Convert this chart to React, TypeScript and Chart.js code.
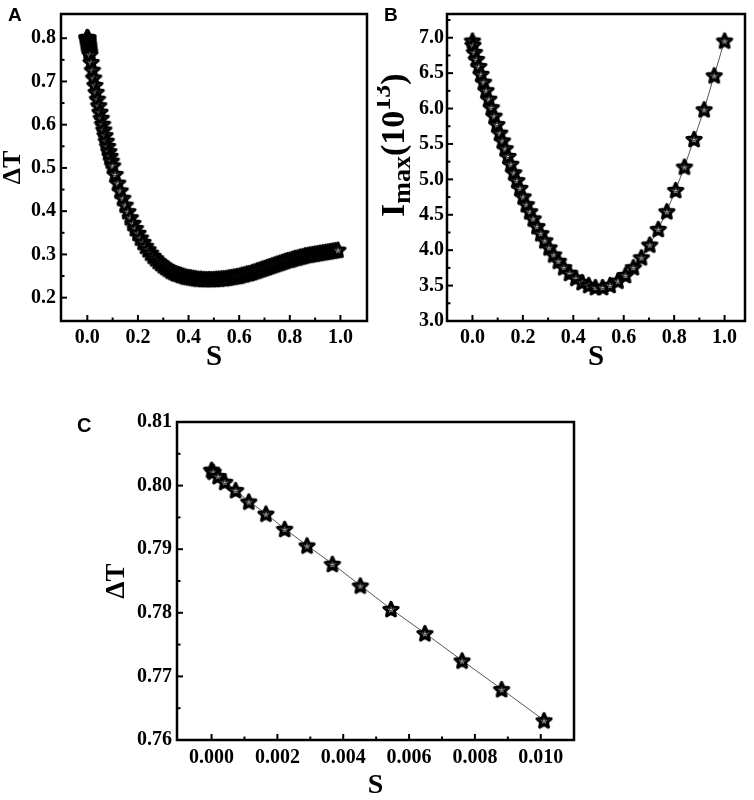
import { useEffect, useRef } from "react";
import Chart from "chart.js/auto";

// Panel A: ΔT against S (full range)
const sA = [
    0, 0.00005, 0.0002, 0.0004, 0.00073, 0.00113, 0.00165, 0.00222, 0.0029, 0.00367, 0.00452, 0.00545, 0.00648,
    0.00761, 0.00881, 0.0101, 0.015, 0.02, 0.025, 0.03, 0.035, 0.04, 0.045, 0.05, 0.055, 0.06, 0.065, 0.07, 0.075,
    0.08, 0.085, 0.09, 0.095, 0.1, 0.11, 0.12, 0.13, 0.14, 0.15, 0.16, 0.17, 0.18, 0.19, 0.2, 0.21, 0.22, 0.23, 0.24,
    0.25, 0.26, 0.27, 0.28, 0.29, 0.3, 0.31, 0.32, 0.33, 0.34, 0.35, 0.36, 0.37, 0.38, 0.39, 0.4, 0.41, 0.42, 0.43,
    0.44, 0.45, 0.46, 0.47, 0.48, 0.49, 0.5, 0.51, 0.52, 0.53, 0.54, 0.55, 0.56, 0.57, 0.58, 0.59, 0.6, 0.61, 0.62,
    0.63, 0.64, 0.65, 0.66, 0.67, 0.68, 0.69, 0.7, 0.71, 0.72, 0.73, 0.74, 0.75, 0.76, 0.77, 0.78, 0.79, 0.8, 0.81,
    0.82, 0.83, 0.84, 0.85, 0.86, 0.87, 0.88, 0.89, 0.9, 0.91, 0.92, 0.93, 0.94, 0.95, 0.96, 0.97, 0.98, 0.99,
];
const deltaTA = [
    0.8025, 0.8022, 0.8015, 0.8006, 0.7993, 0.7975, 0.7956, 0.7932, 0.7906, 0.7877, 0.7843, 0.7806, 0.7768, 0.7725,
    0.768, 0.7631, 0.745, 0.727, 0.709, 0.692, 0.676, 0.66, 0.645, 0.63, 0.616, 0.602, 0.589, 0.576, 0.563, 0.551,
    0.539, 0.528, 0.517, 0.506, 0.486, 0.466, 0.448, 0.431, 0.415, 0.4, 0.386, 0.373, 0.361, 0.35, 0.339, 0.329, 0.32,
    0.312, 0.304, 0.297, 0.291, 0.285, 0.28, 0.275, 0.271, 0.267, 0.263, 0.26, 0.257, 0.255, 0.253, 0.251, 0.249,
    0.248, 0.247, 0.246, 0.245, 0.244, 0.244, 0.243, 0.243, 0.243, 0.243, 0.243, 0.244, 0.244, 0.245, 0.245, 0.246,
    0.247, 0.248, 0.249, 0.25, 0.251, 0.253, 0.254, 0.256, 0.257, 0.259, 0.261, 0.263, 0.265, 0.267, 0.269, 0.271,
    0.273, 0.275, 0.277, 0.279, 0.281, 0.283, 0.285, 0.287, 0.288, 0.29, 0.292, 0.293, 0.295, 0.296, 0.298, 0.299,
    0.3, 0.301, 0.302, 0.303, 0.304, 0.305, 0.306, 0.307, 0.308, 0.309, 0.31, 0.311,
];

// Panel B: Imax (10^13) against S
const sB = [
    0, 0.002, 0.008, 0.016, 0.025, 0.034, 0.044, 0.054, 0.065, 0.075, 0.086, 0.097, 0.108, 0.119, 0.13, 0.141, 0.152,
    0.164, 0.176, 0.188, 0.201, 0.214, 0.227, 0.241, 0.256, 0.271, 0.287, 0.304, 0.322, 0.341, 0.362, 0.385, 0.41,
    0.435, 0.461, 0.488, 0.516, 0.546, 0.577, 0.607, 0.638, 0.67, 0.703, 0.737, 0.771, 0.806, 0.841, 0.879, 0.919,
    0.959, 1.0,
];
const iMaxB = [
    6.96, 6.9, 6.8, 6.7, 6.6, 6.49, 6.38, 6.26, 6.14, 6.02, 5.9, 5.78, 5.66, 5.55, 5.44, 5.33, 5.22, 5.1, 4.99, 4.88,
    4.76, 4.65, 4.55, 4.45, 4.34, 4.24, 4.14, 4.04, 3.94, 3.85, 3.76, 3.68, 3.61, 3.55, 3.51, 3.48, 3.48, 3.51, 3.57,
    3.65, 3.76, 3.9, 4.08, 4.3, 4.55, 4.85, 5.18, 5.57, 5.99, 6.47, 6.96,
];

// Panel C: ΔT against S, zoom on small S
const sC = [
    0, 0.00005, 0.0002, 0.0004, 0.00073, 0.00113, 0.00165, 0.00222, 0.0029, 0.00367, 0.00452, 0.00545, 0.00648,
    0.00761, 0.00881, 0.0101,
];
const deltaTC = [
    0.8025, 0.8022, 0.8015, 0.8006, 0.7993, 0.7975, 0.7956, 0.7932, 0.7906, 0.7877, 0.7843, 0.7806, 0.7768, 0.7725,
    0.768, 0.7631,
];

// tick values
const xTicksAB = [0, 0.2, 0.4, 0.6, 0.8, 1.0];
const xMinorAB = [0.1, 0.3, 0.5, 0.7, 0.9];
const yTicksA = [0.2, 0.3, 0.4, 0.5, 0.6, 0.7, 0.8];
const yMinorA = [0.25, 0.35, 0.45, 0.55, 0.65, 0.75];
const yTicksB = [3.0, 3.5, 4.0, 4.5, 5.0, 5.5, 6.0, 6.5, 7.0];
const yMinorB = [3.25, 3.75, 4.25, 4.75, 5.25, 5.75, 6.25, 6.75, 7.25];
const xTicksC = [0, 0.002, 0.004, 0.006, 0.008, 0.01];
const xMinorC = [0.001, 0.003, 0.005, 0.007, 0.009];
const yTicksC = [0.76, 0.77, 0.78, 0.79, 0.8, 0.81];
const yMinorC = [0.765, 0.775, 0.785, 0.795, 0.805];

const SERIF = "'Liberation Serif', 'Times New Roman', serif";

function starPath(ctx: CanvasRenderingContext2D, cx: number, cy: number, R: number, r: number) {
    ctx.beginPath();
    for (let i = 0; i < 10; i++) {
        const rad = i % 2 === 0 ? R : r;
        const a = -Math.PI / 2 + (i * Math.PI) / 5;
        ctx.lineTo(cx + rad * Math.cos(a), cy + rad * Math.sin(a));
    }
    ctx.closePath();
}

// white star with a heavy black outline and a tiny star in the middle
function makeStar() {
    const c = document.createElement("canvas");
    c.width = 24;
    c.height = 24;
    const ctx = c.getContext("2d")!;
    starPath(ctx, 12, 12.8, 7.4, 3.4);
    ctx.fillStyle = "#fff";
    ctx.fill();
    ctx.strokeStyle = "#000";
    ctx.lineJoin = "round";
    ctx.lineWidth = 3.2;
    ctx.stroke();
    starPath(ctx, 12, 12.6, 2.2, 0.95);
    ctx.lineWidth = 0.8;
    ctx.stroke();
    return c;
}

// box round the plot and short inward ticks
const frameTicks = {
    id: "frameTicks",
    afterDatasetsDraw(chart: any, _args: any, opts: any) {
        const { ctx, chartArea: a, scales } = chart;
        ctx.save();
        ctx.strokeStyle = "#000";
        ctx.lineWidth = 2;
        const mark = (vals: number[], len: number, axis: "x" | "y") => {
            for (const v of vals) {
                ctx.beginPath();
                if (axis === "x") {
                    const px = scales.x.getPixelForValue(v);
                    ctx.moveTo(px, a.bottom);
                    ctx.lineTo(px, a.bottom - len);
                } else {
                    const py = scales.y.getPixelForValue(v);
                    ctx.moveTo(a.left, py);
                    ctx.lineTo(a.left + len, py);
                }
                ctx.stroke();
            }
        };
        mark(opts.xMajor, 6, "x");
        mark(opts.xMinor, 3.5, "x");
        mark(opts.yMajor, 6, "y");
        mark(opts.yMinor, 3.5, "y");
        ctx.lineWidth = 2.5;
        ctx.strokeRect(a.left, a.top, a.right - a.left, a.bottom - a.top);
        ctx.restore();
    },
};

// rotated I_max(10^13) title for panel B
const imaxTitle = {
    id: "imaxTitle",
    afterDraw(chart: any) {
        const ctx = chart.ctx;
        const parts: [string, number, number][] = [
            ["I", 34, 0],
            ["max", 26, 6],
            ["(10", 34, 0],
            ["13", 26, -14],
            [")", 34, 0],
        ];
        ctx.save();
        ctx.translate(27, 217);
        ctx.rotate(-Math.PI / 2);
        ctx.fillStyle = "#000";
        ctx.textBaseline = "alphabetic";
        let x = 0;
        for (const [t, size, dy] of parts) {
            ctx.font = `bold ${size}px ${SERIF}`;
            ctx.fillText(t, x, dy);
            x += ctx.measureText(t).width;
        }
        ctx.restore();
    },
};

type PanelSpec = {
    xs: number[];
    ys: number[];
    xMin: number;
    xMax: number;
    yMin: number;
    yMax: number;
    xTicks: number[];
    xMinor: number[];
    yTicks: number[];
    yMinor: number[];
    xDigits: number;
    yDigits: number;
    padTop: number;
    padRight: number;
    yWidth: number;
    xHeight: number;
    yLabelPad: number;
    xLabelPad: number;
    xTitle: { size: number; pad: number };
    yTitle: { text: string; size: number; pad: number } | null;
    extra: any[];
};

function buildConfig(p: PanelSpec, star: HTMLCanvasElement): any {
    const tickFont = { family: SERIF, size: 20, weight: "bold" as const, lineHeight: 1 };
    return {
        type: "scatter",
        data: {
            datasets: [
                {
                    data: p.xs.map((x, i) => ({ x, y: p.ys[i] })),
                    showLine: true,
                    borderColor: "#555",
                    borderWidth: 1,
                    pointStyle: star,
                    pointRadius: 8,
                },
            ],
        },
        options: {
            responsive: false,
            animation: false,
            layout: { padding: { top: p.padTop, right: p.padRight, left: 0, bottom: 0 } },
            plugins: {
                legend: { display: false },
                tooltip: { enabled: false },
                frameTicks: { xMajor: p.xTicks, xMinor: p.xMinor, yMajor: p.yTicks, yMinor: p.yMinor },
            },
            scales: {
                x: {
                    type: "linear",
                    min: p.xMin,
                    max: p.xMax,
                    afterBuildTicks: (s: any) => {
                        s.ticks = p.xTicks.map((value) => ({ value }));
                    },
                    afterFit: (s: any) => {
                        s.height = p.xHeight;
                        s.paddingLeft = 0;
                        s.paddingRight = 0;
                    },
                    grid: { display: false, drawTicks: false },
                    border: { display: false },
                    ticks: {
                        color: "#000",
                        font: tickFont,
                        padding: p.xLabelPad,
                        maxRotation: 0,
                        autoSkip: false,
                        callback: (v: any) => Number(v).toFixed(p.xDigits),
                    },
                    title: {
                        display: true,
                        text: "S",
                        color: "#000",
                        font: { family: SERIF, size: p.xTitle.size, weight: "bold", lineHeight: 1 },
                        padding: { top: 0, bottom: p.xTitle.pad },
                    },
                },
                y: {
                    type: "linear",
                    min: p.yMin,
                    max: p.yMax,
                    afterBuildTicks: (s: any) => {
                        s.ticks = p.yTicks.map((value) => ({ value }));
                    },
                    afterFit: (s: any) => {
                        s.width = p.yWidth;
                        s.paddingTop = 0;
                        s.paddingBottom = 0;
                    },
                    grid: { display: false, drawTicks: false },
                    border: { display: false },
                    ticks: {
                        color: "#000",
                        font: tickFont,
                        padding: p.yLabelPad,
                        autoSkip: false,
                        callback: (v: any) => Number(v).toFixed(p.yDigits),
                    },
                    title: p.yTitle
                        ? {
                              display: true,
                              text: p.yTitle.text,
                              color: "#000",
                              font: { family: SERIF, size: p.yTitle.size, weight: "bold", lineHeight: 1 },
                              padding: { top: p.yTitle.pad, bottom: 0 },
                          }
                        : { display: false },
                },
            },
        },
        plugins: [frameTicks, ...p.extra],
    };
}

const panelA: PanelSpec = {
    xs: sA,
    ys: deltaTA,
    xMin: -0.104,
    xMax: 1.105,
    yMin: 0.146,
    yMax: 0.856,
    xTicks: xTicksAB,
    xMinor: xMinorAB,
    yTicks: yTicksA,
    yMinor: yMinorA,
    xDigits: 1,
    yDigits: 1,
    padTop: 14,
    padRight: 10,
    yWidth: 61,
    xHeight: 64,
    yLabelPad: 5,
    xLabelPad: 7,
    xTitle: { size: 29, pad: 13 },
    yTitle: { text: "ΔT", size: 26, pad: 0 },
    extra: [],
};

const panelB: PanelSpec = {
    xs: sB,
    ys: iMaxB,
    xMin: -0.101,
    xMax: 1.081,
    yMin: 3.0,
    yMax: 7.335,
    xTicks: xTicksAB,
    xMinor: xMinorAB,
    yTicks: yTicksB,
    yMinor: yMinorB,
    xDigits: 1,
    yDigits: 1,
    padTop: 14,
    padRight: 7,
    yWidth: 70,
    xHeight: 64,
    yLabelPad: 3,
    xLabelPad: 7,
    xTitle: { size: 29, pad: 13 },
    yTitle: null,
    extra: [imaxTitle],
};

const panelC: PanelSpec = {
    xs: sC,
    ys: deltaTC,
    xMin: -0.00105,
    xMax: 0.01101,
    yMin: 0.76,
    yMax: 0.81,
    xTicks: xTicksC,
    xMinor: xMinorC,
    yTicks: yTicksC,
    yMinor: yMinorC,
    xDigits: 3,
    yDigits: 2,
    padTop: 22,
    padRight: 180,
    yWidth: 177,
    xHeight: 60,
    yLabelPad: 5,
    xLabelPad: 8,
    xTitle: { size: 28, pad: 0 },
    yTitle: { text: "ΔT", size: 27, pad: 104 },
    extra: [],
};

type PanelProps = { left: number; top: number; width: number; height: number; spec: PanelSpec };

function Panel({ left, top, width, height, spec }: PanelProps) {
    const canvasRef = useRef<HTMLCanvasElement | null>(null);

    useEffect(() => {
        if (!canvasRef.current) {
            return;
        }
        const chart = new Chart(canvasRef.current, buildConfig(spec, makeStar()));
        return () => chart.destroy();
    }, [spec]);

    return (
        <div style={{ position: "absolute", left, top, width, height }}>
            <canvas ref={canvasRef} width={width} height={height} style={{ display: "block" }} />
        </div>
    );
}

const letterStyle = {
    position: "absolute" as const,
    fontFamily: "'Liberation Sans', Arial, sans-serif",
    fontWeight: "bold" as const,
    lineHeight: 1,
};

export default function App() {
    return (
        <div style={{ position: "absolute", left: 0, top: 0, width: 754, height: 800, background: "#fff" }}>
            <Panel left={0} top={0} width={377} height={385} spec={panelA} />
            <Panel left={377} top={0} width={377} height={385} spec={panelB} />
            <Panel left={0} top={400} width={754} height={400} spec={panelC} />
            <div style={{ ...letterStyle, left: 8, top: 4.5, fontSize: 19 }}>A</div>
            <div style={{ ...letterStyle, left: 384, top: 4.5, fontSize: 19 }}>B</div>
            <div style={{ ...letterStyle, left: 77, top: 414.5, fontSize: 20 }}>C</div>
        </div>
    );
}
